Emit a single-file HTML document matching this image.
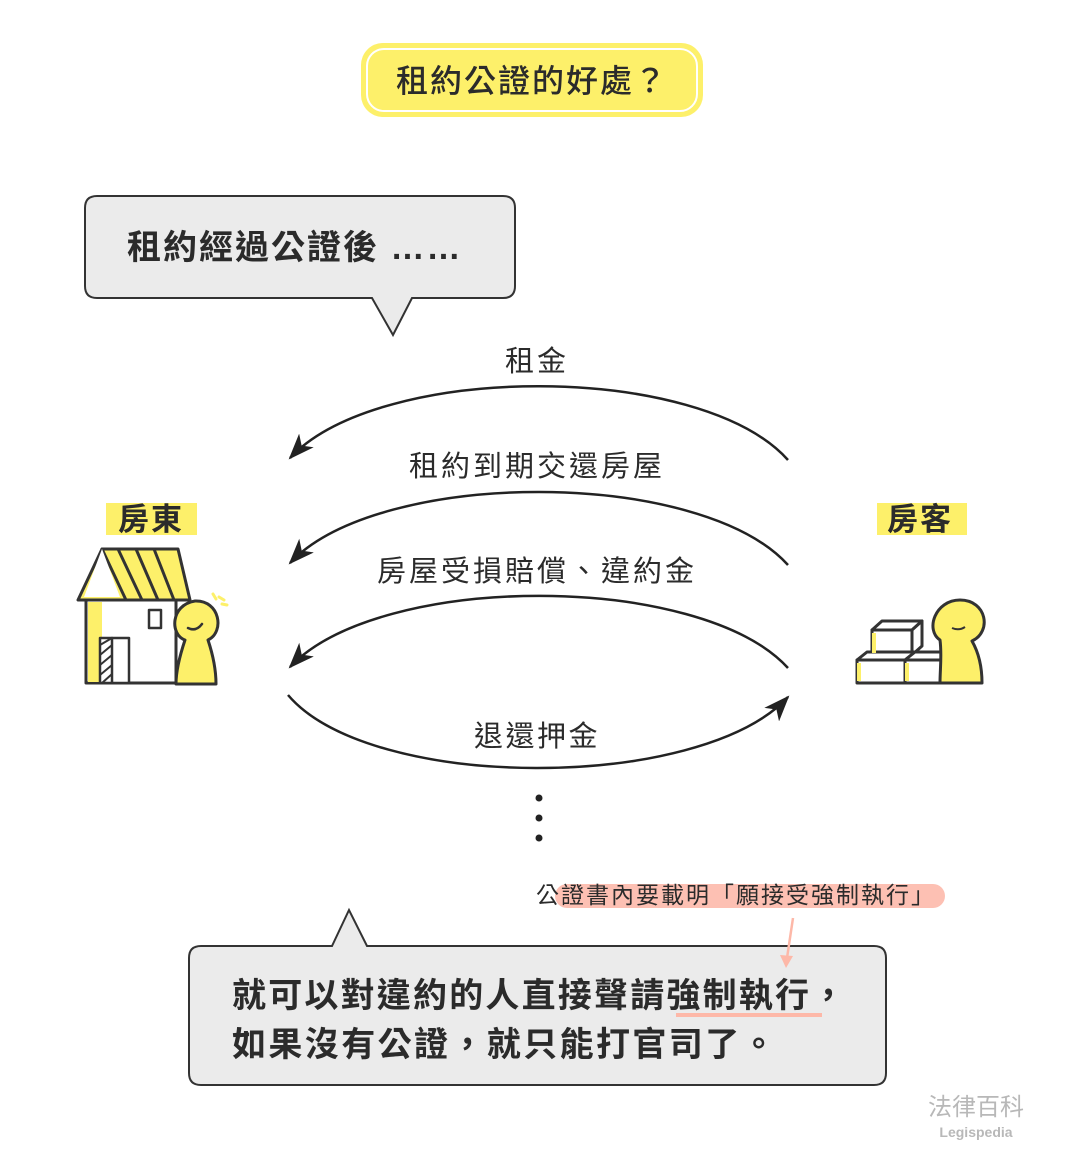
<!DOCTYPE html>
<html><head><meta charset="utf-8"><style>
html,body{margin:0;padding:0;background:#fff}
svg{display:block}
text{font-family:"Liberation Sans","Noto Sans CJK TC",sans-serif;fill:#2b2b2b}
</style></head><body>
<svg width="1065" height="1173" viewBox="0 0 1065 1173" xmlns="http://www.w3.org/2000/svg">
<defs>
<marker id="ah" viewBox="0 0 26 20" refX="24" refY="10" markerWidth="26" markerHeight="20" markerUnits="userSpaceOnUse" orient="auto"><path d="M0,0 L26,10 L0,20 L7,10z" fill="#222"/></marker>
</defs>
<rect x="361" y="43" width="342" height="74" rx="22" fill="#fdf06a"/>
<rect x="367" y="49" width="330" height="62" rx="17" fill="none" stroke="#fff" stroke-width="2"/>
<text x="532" y="92" font-size="32" text-anchor="middle" font-weight="500" letter-spacing="2">租約公證的好處？</text>

<path d="M97,196 H503 Q515,196 515,208 V286 Q515,298 503,298 H412 L393,335 L372,298 H97 Q85,298 85,286 V208 Q85,196 97,196Z" fill="#ebebeb" stroke="#333" stroke-width="2"/>
<text x="127" y="259" font-size="34" font-weight="bold" letter-spacing="2">租約經過公證後 ……</text>

<g fill="none" stroke="#222" stroke-width="2.5">
<path d="M788,460 C700,362 380,362 290,458" marker-end="url(#ah)"/>
<path d="M788,565 C700,468 380,468 290,563" marker-end="url(#ah)"/>
<path d="M788,668 C700,572 380,572 290,667" marker-end="url(#ah)"/>
<path d="M288,695 C370,792 700,792 788,697" marker-end="url(#ah)"/>
</g>
<text x="537" y="371" font-size="29" text-anchor="middle" letter-spacing="3">租金</text>
<text x="537" y="476" font-size="29" text-anchor="middle" letter-spacing="3">租約到期交還房屋</text>
<text x="537" y="581" font-size="29" text-anchor="middle" letter-spacing="3">房屋受損賠償、違約金</text>
<text x="537" y="746" font-size="29" text-anchor="middle" letter-spacing="2.5">退還押金</text>
<circle cx="539" cy="798" r="3.5" fill="#222"/><circle cx="539" cy="818" r="3.5" fill="#222"/><circle cx="539" cy="838" r="3.5" fill="#222"/>

<rect x="106" y="503" width="91" height="32" fill="#fdf06a"/>
<text x="151" y="530" font-size="31" font-weight="bold" text-anchor="middle" letter-spacing="2">房東</text>
<rect x="877" y="503" width="90" height="32" fill="#fdf06a"/>
<text x="920" y="530" font-size="31" font-weight="bold" text-anchor="middle" letter-spacing="2">房客</text>

<g stroke="#333" stroke-width="3" stroke-linejoin="round" stroke-linecap="round">
<rect x="86" y="600" width="90" height="83" fill="#fff"/>
<rect x="88" y="602" width="14" height="80" fill="#fdf06a" stroke="none"/>
<path d="M102,549 L78,600 H190 L178,549Z" fill="#fdf06a"/>
<path d="M102,549 L126,600 M118,549 L142,600 M136,549 L158,600 M154,549 L174,600" fill="none"/>
<path d="M102,549 L84,597 H120Z" fill="#fff" stroke="none"/>
<rect x="149" y="610" width="12" height="18" fill="#fff" stroke-width="2.5"/>
<rect x="100" y="638" width="29" height="45" fill="#fff" stroke-width="2.5"/>
<path d="M100,645 l12,-7 M100,655 l12,-10 M100,665 l12,-10 M100,675 l12,-10 M102,683 l10,-9" stroke-width="2"/>
<line x1="112" y1="638" x2="112" y2="683" stroke-width="2.5"/>
<path d="M185,640 C170,635 170,605 195,601 C220,600 225,632 208,640 C213,655 216,670 216,684 H176 C176,670 180,655 185,640Z" fill="#fdf06a"/>
<path d="M188,628 q8,4 14,-4" fill="none" stroke-width="2.5"/>
<path d="M213,594 l3,5 M219,597 l5,3 M222,604 l5,1" stroke="#fdf06a" stroke-width="3"/>
</g>

<g stroke="#333" stroke-width="3" stroke-linejoin="round">
<rect x="872" y="630" width="40" height="25" fill="#fff"/>
<path d="M872,630 l10,-9 h40 l-10,9z" fill="#fff"/>
<path d="M912,630 l10,-9 v25 l-10,9z" fill="#fff"/>
<rect x="857" y="660" width="48" height="23" fill="#fff"/>
<path d="M857,660 l10,-8 h48 l-10,8z" fill="#fff"/>
<rect x="905" y="660" width="36" height="23" fill="#fff"/>
<path d="M905,660 l10,-8 h30 l-4,8z" fill="#fff"/>
<path d="M859,663 v18 M874,633 v20 M907,663 v18" stroke="#fdf06a" stroke-width="4"/>
<path d="M940,640 C925,630 935,600 960,600 C987,600 992,632 972,641 C980,655 982,670 982,683 H940 C940,670 942,655 940,640Z" fill="#fdf06a"/>
<path d="M952,628 q7,3 13,-1" fill="none" stroke-width="2"/>
</g>

<path d="M201,946 H332 L349,910 L367,946 H874 Q886,946 886,958 V1073 Q886,1085 874,1085 H201 Q189,1085 189,1073 V958 Q189,946 201,946Z" fill="#ebebeb" stroke="#333" stroke-width="2"/>
<text x="232" y="1007" font-size="34" font-weight="bold" letter-spacing="2.2">就可以對違約的人直接聲請強制執行，</text>
<text x="232" y="1056" font-size="34" font-weight="bold" letter-spacing="2.4">如果沒有公證，就只能打官司了。</text>
<line x1="676" y1="1015" x2="822" y2="1015" stroke="#fdb8a8" stroke-width="4"/>

<rect x="555" y="884" width="390" height="24" rx="12" fill="#fdc0b3"/>
<text x="536" y="903" font-size="23" letter-spacing="2">公證書內要載明「願接受強制執行」</text>
<line x1="793" y1="918" x2="787" y2="958" stroke="#fdb8a8" stroke-width="2.5"/>
<path d="M780,955 L786,968 L793,956z" fill="#fdb8a8"/>

<text x="976" y="1115" font-size="24" text-anchor="middle" style="fill:#b8b8b8">法律百科</text>
<text x="976" y="1137" font-size="14" font-weight="bold" text-anchor="middle" style="fill:#b8b8b8">Legispedia</text>
</svg>
</body></html>
